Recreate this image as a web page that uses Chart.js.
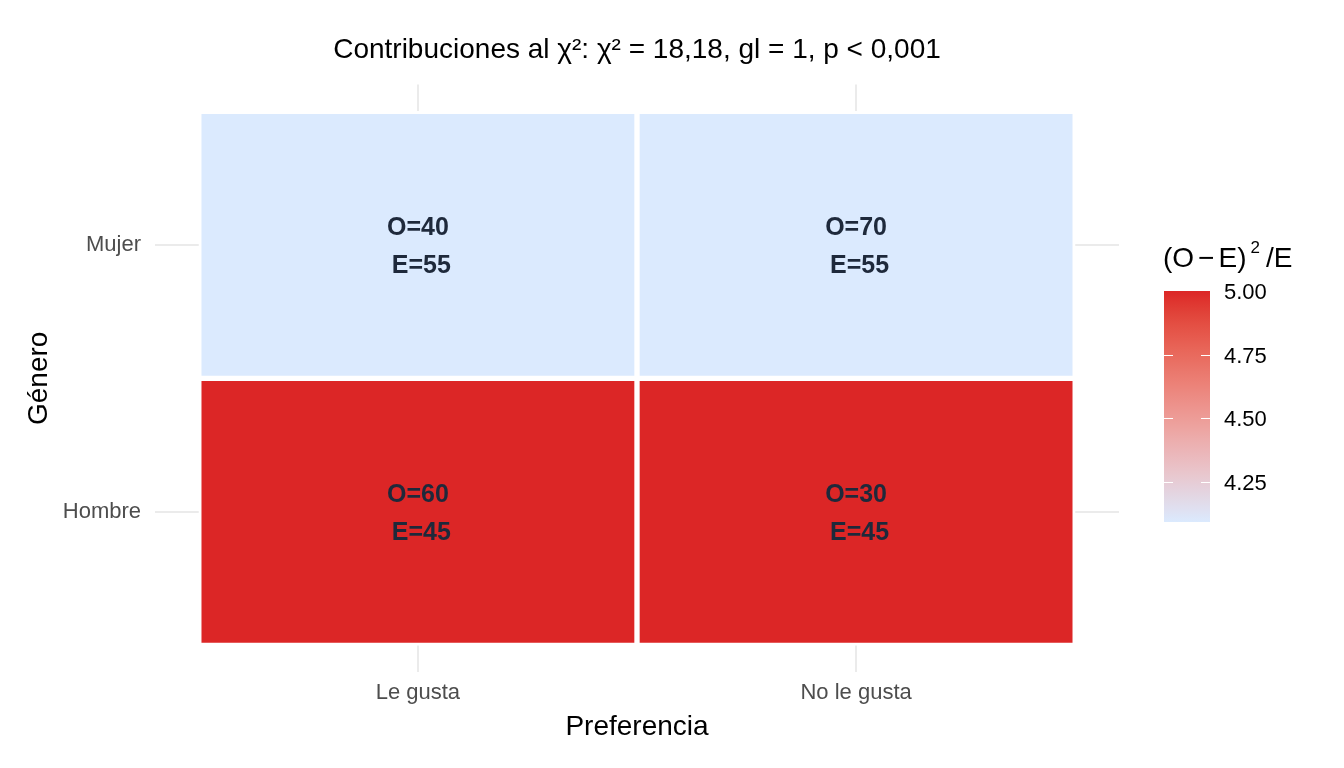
<!DOCTYPE html>
<html>
<head>
<meta charset="utf-8">
<script src="https://cdn.jsdelivr.net/npm/chart.js@4.4.1/dist/chart.umd.min.js"></script>
<style>
  html, body { margin: 0; padding: 0; background: #fff; }
</style>
</head>
<body>
<canvas id="myChart" width="1344" height="768"></canvas>
<script>
// datos de la tabla 2x2
const preferencia = ['Le gusta', 'No le gusta'];
const genero = ['Hombre', 'Mujer'];          // de abajo hacia arriba
const observadoHombre = [60, 30];
const observadoMujer = [40, 70];
const esperadoHombre = [45, 45];
const esperadoMujer = [55, 55];
const legendTicks = [4.25, 4.50, 4.75, 5.00];
const titulo = 'Contribuciones al \u03c7\u00b2: \u03c7\u00b2 = 18,18, gl = 1, p < 0,001';

const lowColor = '#dbeafe';
const highColor = '#dc2626';
const FONT = '"Liberation Sans", Arial, sans-serif';
Chart.defaults.font.family = FONT;

// celdas con su contribucion (O-E)^2/E
const cells = [];
genero.forEach((g, gi) => {
    const obs = g == 'Mujer' ? observadoMujer : observadoHombre;
    const esp = g == 'Mujer' ? esperadoMujer : esperadoHombre;
    preferencia.forEach((p, pi) => {
        cells.push({
            x: pi + 1,
            y: [gi + 0.5, gi + 1.5],
            o: obs[pi],
            e: esp[pi],
            c: Math.pow(obs[pi] - esp[pi], 2) / esp[pi]
        });
    });
});
const cMin = Math.min(...cells.map(c => c.c));
const cMax = Math.max(...cells.map(c => c.c));

// interpolacion en CIELAB como ggplot
function hexRgb(h) { return [1, 3, 5].map(i => parseInt(h.substr(i, 2), 16)); }
function toLab(rgb) {
    const lin = c => { c /= 255; return c <= 0.04045 ? c / 12.92 : Math.pow((c + 0.055) / 1.055, 2.4); };
    const [R, G, B] = rgb.map(lin);
    const X = (0.4124 * R + 0.3576 * G + 0.1805 * B) / 0.95047;
    const Y = (0.2126 * R + 0.7152 * G + 0.0722 * B);
    const Z = (0.0193 * R + 0.1192 * G + 0.9505 * B) / 1.08883;
    const f = t => t > 0.008856 ? Math.cbrt(t) : 7.787 * t + 16 / 116;
    const fx = f(X), fy = f(Y), fz = f(Z);
    return [116 * fy - 16, 500 * (fx - fy), 200 * (fy - fz)];
}
function fromLab(lab) {
    const fy = (lab[0] + 16) / 116, fx = fy + lab[1] / 500, fz = fy - lab[2] / 200;
    const finv = t => t * t * t > 0.008856 ? t * t * t : (t - 16 / 116) / 7.787;
    const X = finv(fx) * 0.95047, Y = finv(fy), Z = finv(fz) * 1.08883;
    const R = 3.2406 * X - 1.5372 * Y - 0.4986 * Z;
    const G = -0.9689 * X + 1.8758 * Y + 0.0415 * Z;
    const B = 0.0557 * X - 0.2040 * Y + 1.0570 * Z;
    const gam = c => {
        c = c <= 0.0031308 ? 12.92 * c : 1.055 * Math.pow(c, 1 / 2.4) - 0.055;
        return Math.round(Math.min(1, Math.max(0, c)) * 255);
    };
    return 'rgb(' + gam(R) + ',' + gam(G) + ',' + gam(B) + ')';
}
const labLow = toLab(hexRgb(lowColor));
const labHigh = toLab(hexRgb(highColor));
function colorFor(v) {
    let t = (v - cMin) / (cMax - cMin);
    t = Math.min(1, Math.max(0, t));
    return fromLab(labLow.map((l, i) => l + (labHigh[i] - l) * t));
}

const cellLabels = {
    id: 'cellLabels',
    afterDatasetsDraw(chart) {
        const ctx = chart.ctx;
        const meta = chart.getDatasetMeta(0);
        ctx.save();
        ctx.font = 'bold 25px ' + FONT;
        ctx.fillStyle = '#1e293b';
        ctx.textAlign = 'center';
        ctx.textBaseline = 'middle';
        meta.data.forEach((bar, i) => {
            const { x, y, base } = bar.getProps(['x', 'y', 'base'], true);
            const cy = (y + base) / 2;
            ctx.fillText('O=' + cells[i].o, x, cy - 17);
            ctx.fillText(' E=' + cells[i].e, x, cy + 21);
        });
        ctx.restore();
    }
};

const colorBar = {
    id: 'colorBar',
    afterDraw(chart) {
        const ctx = chart.ctx;
        const left = 1164, w = 46, top = 291, bottom = 522;
        const yFor = v => bottom - (v - cMin) / (cMax - cMin) * (bottom - top);
        ctx.save();
        const grad = ctx.createLinearGradient(0, bottom, 0, top);
        for (let i = 0; i <= 20; i++) {
            grad.addColorStop(i / 20, colorFor(cMin + (cMax - cMin) * i / 20));
        }
        ctx.fillStyle = grad;
        ctx.fillRect(left, top, w, bottom - top);

        ctx.strokeStyle = '#ffffff';
        ctx.lineWidth = 1;
        ctx.fillStyle = '#000';
        ctx.font = '22px ' + FONT;
        ctx.textAlign = 'left';
        ctx.textBaseline = 'middle';
        legendTicks.forEach(t => {
            const y = Math.round(yFor(t)) + 0.5;
            if (t < cMax) {
                ctx.beginPath();
                ctx.moveTo(left, y); ctx.lineTo(left + 9, y);
                ctx.moveTo(left + w - 9, y); ctx.lineTo(left + w, y);
                ctx.stroke();
            }
            ctx.fillText(t.toFixed(2), 1224, y + 1);
        });

        // titulo de la leyenda (O - E)^2 / E
        ctx.textBaseline = 'alphabetic';
        ctx.font = '28px ' + FONT;
        let x = 1163;
        ctx.fillText('(O', x, 267);
        x += ctx.measureText('(O').width + 4;
        ctx.fillText('\u2212', x, 267);
        x += ctx.measureText('\u2212').width + 4;
        ctx.fillText('E)', x, 267);
        x += ctx.measureText('E)').width + 4;
        ctx.font = '17px ' + FONT;
        ctx.fillText('2', x, 253);
        x += ctx.measureText('2').width + 6;
        ctx.font = '28px ' + FONT;
        ctx.fillText('/E', x, 267);
        ctx.restore();
    }
};

const gridStyle = { color: '#ebebeb', lineWidth: 2, drawTicks: false, offset: false };

const myChart = new Chart(document.getElementById('myChart'), {
    type: 'bar',
    data: {
        datasets: [{
            data: cells,
            backgroundColor: cells.map(c => colorFor(c.c)),
            borderColor: '#ffffff',
            borderWidth: 3,
            borderSkipped: false,
            barPercentage: 1,
            categoryPercentage: 1
        }]
    },
    options: {
        responsive: false,
        animation: false,
        events: [],
        layout: { padding: { left: 0, right: 225, top: 0, bottom: 0 } },
        plugins: {
            legend: { display: false },
            tooltip: { enabled: false },
            title: {
                display: true,
                text: titulo,
                fullSize: false,
                color: '#000',
                font: { size: 28, weight: 'normal' },
                padding: { top: 33, bottom: 18 }
            }
        },
        scales: {
            x: {
                type: 'linear',
                offset: false,
                min: 0.4,
                max: 2.6,
                afterBuildTicks: s => { s.ticks = preferencia.map((_, i) => ({ value: i + 1 })); },
                afterFit: s => { s.height = 96; },
                ticks: {
                    callback: v => preferencia[v - 1],
                    color: '#4d4d4d',
                    font: { size: 22 },
                    padding: 8,
                    maxRotation: 0,
                    autoSkip: false
                },
                grid: gridStyle,
                border: { display: false },
                title: {
                    display: true,
                    text: 'Preferencia',
                    color: '#000',
                    font: { size: 28 },
                    padding: { top: 0, bottom: 24 }
                }
            },
            y: {
                type: 'linear',
                offset: false,
                min: 0.4,
                max: 2.6,
                afterBuildTicks: s => { s.ticks = genero.map((_, i) => ({ value: i + 1 })); },
                afterFit: s => { s.width = 155; },
                ticks: {
                    callback: v => genero[v - 1],
                    color: '#4d4d4d',
                    font: { size: 22 },
                    padding: 14,
                    autoSkip: false
                },
                grid: gridStyle,
                border: { display: false },
                title: {
                    display: true,
                    text: 'Género',
                    color: '#000',
                    font: { size: 28 },
                    padding: { top: 22, bottom: 0 }
                }
            }
        }
    },
    plugins: [cellLabels, colorBar]
});
</script>
</body>
</html>
